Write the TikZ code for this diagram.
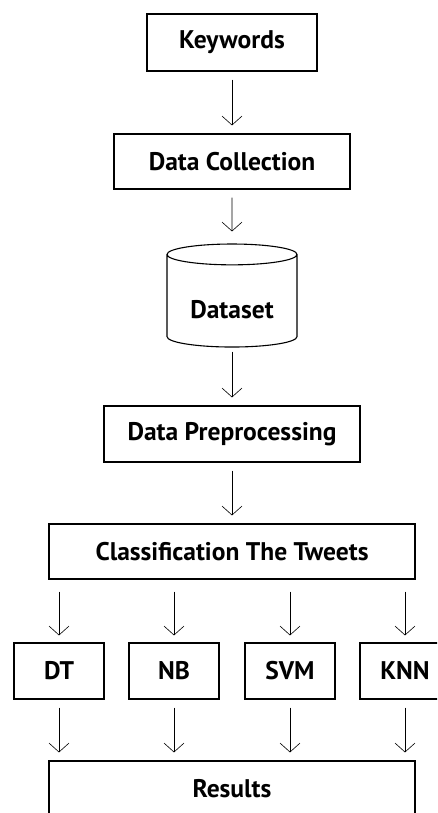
\documentclass[tikz,border=0pt]{standalone}
\usepackage{fontspec}
\setmainfont{PT Sans}
\usetikzlibrary{arrows.meta,shapes.geometric}

\tikzset{
  box/.style={draw, line width=1.1pt, inner sep=0pt, font=\fontsize{25.5}{30}\selectfont\bfseries},
  flow/.style={-{Straight Barb[length=9pt,width=20pt]}, line width=0.6pt, shorten <=8pt, shorten >=8pt},
}

\begin{document}
\begin{tikzpicture}[x=1pt,y=-1pt]
    \clip (0,0) rectangle (437,813);
    \fill[white] (0,0) rectangle (437,813);

    \node [box, minimum width=170pt, minimum height=57pt] (kw) at (232,42.5) {Keywords};
    \node [box, minimum width=236pt, minimum height=55pt] (dc) at (232,161.5) {Data Collection};
    \node [box, cylinder, shape border rotate=90, aspect=0.25, minimum width=130pt, minimum height=103pt,
           text height=35pt, text depth=0pt] (ds) at (232,301) {Dataset};
    \node [box, minimum width=256pt, minimum height=56pt] (dp) at (232,434) {Data Preprocessing};
    \node [box, minimum width=366pt, minimum height=55pt] (cls) at (232,551.5) {Classification The Tweets};

    \node [box, minimum width=90pt, minimum height=56pt] (dt) at (59,671) {DT};
    \node [box, minimum width=90pt, minimum height=56pt] (nb) at (174,671) {NB};
    \node [box, minimum width=90pt, minimum height=56pt] (svm) at (290,671) {SVM};
    \node [box, minimum width=90pt, minimum height=56pt] (knn) at (405,671) {KNN};

    \node [box, minimum width=366pt, minimum height=55pt] (res) at (232,788.5) {Results};

    \draw [flow] (kw) -- (dc);
    \draw [flow, shorten >=12pt] (dc) -- (ds);
    \draw [flow, shorten <=4pt] (ds) -- (dp);
    \draw [flow] (dp) -- (cls);

    \foreach \m in {dt,nb,svm,knn} {
      \draw [flow, shorten <=12pt, shorten >=7pt] (cls.south -| \m.north) -- (\m.north);
      \draw [flow] (\m.south) -- (res.north -| \m.south);
    }
\end{tikzpicture}
\end{document}
